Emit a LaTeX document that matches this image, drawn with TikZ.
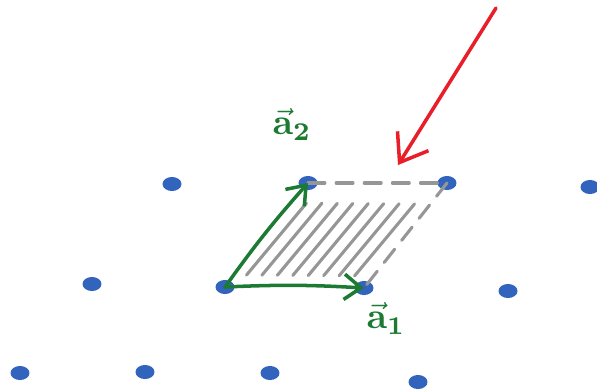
\documentclass[tikz,border=0pt]{standalone}
\usepackage{xcolor}
\usetikzlibrary{arrows.meta, calc, shapes.geometric}
\definecolor{dotblue}{RGB}{50,100,190}
\definecolor{vecgreen}{RGB}{28,122,50}
\definecolor{pointred}{RGB}{232,30,40}
\definecolor{hatchgray}{RGB}{150,150,150}

\tikzset{
  site/.style={fill=dotblue, ellipse, inner sep=0pt, minimum width=13.5pt, minimum height=10pt},
  basisvec/.style={vecgreen, line width=2.5pt, line cap=round, -{Straight Barb[length=12pt,width=18pt]}},
  hatch/.style={hatchgray, line width=2.2pt, line cap=round}
}

\begin{document}
\begin{tikzpicture}[x=0.025cm, y=-0.025cm]
  \useasboundingbox (0,0) rectangle (597,391);
  %The lattice sites:
  \node[site] (s11) at (172,184) {};
  \node[site] (s12) at (308,183) {};
  \node[site] (s13) at (447,183) {};
  \node[site] (s14) at (590,187) {};
  \node[site] (s21) at (92,284) {};
  \node[site] (s22) at (225,287) {};
  \node[site] (s23) at (364,288) {};
  \node[site] (s24) at (508,291) {};
  \node[site] (s31) at (20,373) {};
  \node[site] (s32) at (145,372) {};
  \node[site] (s33) at (270,373) {};
  \node[site] (s34) at (418,382) {};

  %The hatched unit cell:
  \foreach \i [evaluate={\t=\i/9;}] in {1,...,8}{
    \draw[hatch] ($(s22.center)!\t!(s23.center) + (6,-12)$) -- ($(s22.center)!\t!(s23.center) + (66,-84)$);
   }
  \draw[hatch, dash pattern=on 12pt off 8pt] (s12.center) -- (s13.center);
  \draw[hatch, dash pattern=on 12pt off 8pt] (s13.center) -- (s23.center);

  %The two basis vectors with labels:
  \draw[basisvec] (s22.center) to[bend left=3] (s12.center);
  \draw[basisvec] (s22.center) to[bend left=3] (s23.center);
  \node[vecgreen, scale=2.6] (a2) at (292,124) {$\vec{\mathbf{a}}_{\mathbf{2}}$};
  \node[vecgreen, scale=2.6] (a1) at (386,318) {$\vec{\mathbf{a}}_{\mathbf{1}}$};

  %The red pointer to the cell:
  \coordinate (tail) at (496,8);
  \coordinate (tip) at (398,165);
  \draw[pointred, line width=2.5pt, line cap=round, -{Straight Barb[length=18pt,width=26pt]}] (tail) -- (tip);
\end{tikzpicture}
\end{document}
